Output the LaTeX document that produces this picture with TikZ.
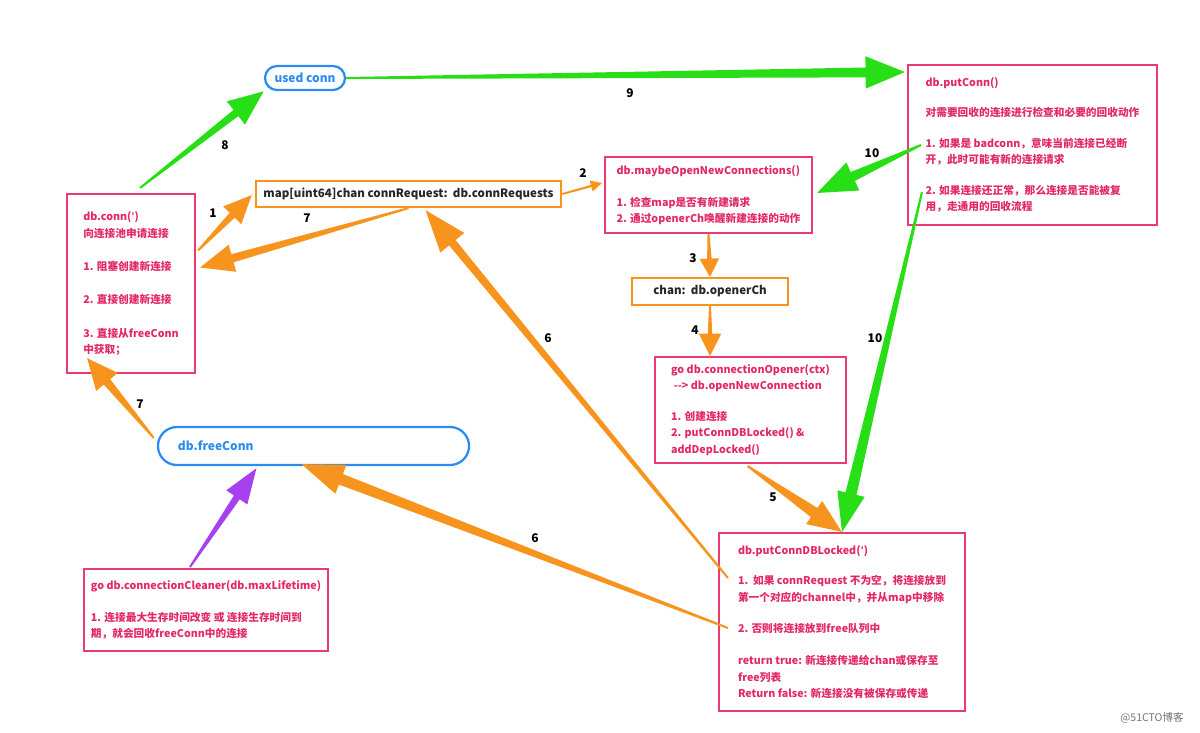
\documentclass[tikz,border=0pt]{standalone}
\usepackage{fontspec}
\setmainfont{Noto Sans CJK SC}
\newfontfamily\quotefont{DejaVu Sans}[Ligatures=ResetAll]
\usetikzlibrary{calc}
\definecolor{pinkline}{RGB}{236,58,114}
\definecolor{pinktext}{RGB}{226,40,104}
\definecolor{orangeline}{RGB}{247,148,30}
\definecolor{greenline}{RGB}{40,222,22}
\definecolor{blueline}{RGB}{40,140,240}
\definecolor{purpleline}{RGB}{165,65,240}
\newcommand{\qmark}{{\quotefont\symbol{39}}}
\tikzset{
  fnbox/.style={draw=pinkline, line width=1.4pt, text=pinktext, align=left, inner sep=0pt,
    font=\fontsize{7.6}{11.7}\selectfont\bfseries},
  chbox/.style={draw=orangeline, line width=1.6pt, text=black!85, inner sep=0pt,
    font=\fontsize{8.2}{10}\selectfont\bfseries},
  poolbox/.style={draw=blueline, line width=1.6pt, text=blueline, inner sep=0pt,
    font=\fontsize{8.5}{10}\selectfont\bfseries},
  steplbl/.style={font=\fontsize{8.5}{10}\selectfont\bfseries},
  at0/.style={shift={(\p1)}, rotate=\n1},
  wedge/.style n args={3}{to path={
    let \p1=(\tikztostart), \p2=(\tikztotarget),
        \n1={atan2(\y2-\y1,\x2-\x1)}, \n2={veclen(\x2-\x1,\y2-\y1)} in
    ([at0]0pt,0.7pt) -- ([at0]\n2-#2,#3) -- ([at0]\n2-#2,#1) -- ([at0]\n2,0pt)
    -- ([at0]\n2-#2,-#1) -- ([at0]\n2-#2,-#3) -- ([at0]0pt,-0.7pt) -- cycle}},
}
\begin{document}
\begin{tikzpicture}[x=0.025cm, y=-0.025cm]
\useasboundingbox (0,0) rectangle (1200,732);

% boxes
\node[poolbox, rounded corners=0.3cm, minimum width=2cm, minimum height=0.6cm] (usedconn) at (305,78) {used conn};
\node[fnbox, minimum width=3.2cm, minimum height=4.475cm] (conn) at (131,283.5)
  {db.conn(\qmark)\\向连接池申请连接\\[12pt]1. 阻塞创建新连接\\[12pt]2. 直接创建新连接\\[12pt]3. 直接从freeConn\\中获取；};
\node[chbox, minimum width=7.625cm, minimum height=0.65cm] (mapreq) at (408.5,194)
  {map[uint64]chan connRequest:\ \ db.connRequests};
\node[fnbox, minimum width=5.175cm, minimum height=1.9cm] (maybeopen) at (708.5,195)
  {db.maybeOpenNewConnections()\\[11pt]1. 检查map是否有新建请求\\2. 通过openerCh唤醒新建连接的动作};
\node[chbox, minimum width=3.9cm, minimum height=0.675cm] (openerch) at (710,291.5)
  {chan:\ \ db.openerCh};
\node[fnbox, minimum width=4.775cm, minimum height=2.65cm] (opener) at (750.5,410)
  {go db.connectionOpener(ctx)\\\hspace{0.25em}-{}-> db.openNewConnection\\[10pt]1. 创建连接\\2. putConnDBLocked() \&\\addDepLocked()};
\node[fnbox, minimum width=6.225cm, minimum height=4cm] (putconn) at (1032.5,145)
  {db.putConn()\\[10pt]对需要回收的连接进行检查和必要的回收动作\\[10pt]1. 如果是 badconn，意味当前连接已经断\\开，此时可能有新的连接请求\\[10pt]2. 如果连接还正常，那么连接是否能被复\\用，走通用的回收流程};
\node[poolbox, rounded corners=0.475cm, minimum width=7.775cm, minimum height=0.95cm,
  text width=6.775cm, align=left] (freeconn) at (313.5,446) {db.freeConn};
\node[fnbox, minimum width=6.1cm, minimum height=2.05cm] (cleaner) at (206,610)
  {go db.connectionCleaner(db.maxLifetime)\\[11pt]1. 连接最大生存时间改变 或 连接生存时间到\\期，就会回收freeConn中的连接};
\node[fnbox, minimum width=6.15cm, minimum height=4.45cm] (putlocked) at (842,622)
  {db.putConnDBLocked(\qmark)\\[10pt]1.\ \ 如果 connRequest 不为空，将连接放到\\第一个对应的channel中，并从map中移除\\[11pt]2. 否则将连接放到free队列中\\[11pt]return true: 新连接传递给chan或保存至\\free列表\\Return false: 新连接没有被保存或传递};

% green arrows
\fill[greenline, wedge={10.5pt}{25pt}{2.8pt}] ($(conn.north)+(9,-5)$) to (usedconn.south west);
\fill[greenline, wedge={11.5pt}{28pt}{3.5pt}] (usedconn.east) to ($(putconn.north west)+(-2,8)$);
\fill[greenline, wedge={11pt}{28pt}{3.5pt}] ($(putconn.west)+(14,0)$) to ($(maybeopen.east)+(4,-2)$);
\fill[greenline, wedge={10pt}{28pt}{4pt}] ($(putconn.west)+(15,47)$) to (putlocked.north);

% orange arrows
\fill[orangeline, wedge={9pt}{20pt}{2.5pt}] ($(conn.east)+(2,-33)$) to ($(mapreq.west)+(-3,1)$);
\fill[orangeline, wedge={10pt}{24pt}{3pt}] (mapreq.south) to ($(conn.east)+(4,-16)$);
\fill[orangeline, wedge={4pt}{8pt}{0.8pt}] (mapreq.east) to ($(maybeopen.west)+(-2,-12)$);
\fill[orangeline, wedge={7pt}{13pt}{1.6pt}] (maybeopen.south) to (openerch.north);
\fill[orangeline, wedge={8pt}{16pt}{1.6pt}] (openerch.south) to (openerch.south |- opener.north);
\fill[orangeline, wedge={10pt}{24pt}{4pt}] ($(opener.south)+(-3,2)$) to (putlocked.north);
\fill[orangeline, wedge={11pt}{30pt}{3pt}] ($(putlocked.west)+(10,-44)$) to ($(mapreq.south)+(17,2)$);
\fill[orangeline, wedge={11pt}{30pt}{4pt}] ($(putlocked.west)+(10,6)$) to ($(freeconn.south)+(-12,-2)$);
\fill[orangeline, wedge={10pt}{22pt}{3pt}] ($(freeconn.west)+(-3,-8)$) to ($(conn.south west)+(21,-16)$);

% purple arrow
\fill[purpleline, wedge={9pt}{25pt}{2.5pt}] ($(cleaner.north)+(-16,-1)$) to ($(freeconn.south)+(-57,2)$);

% step numbers
\node[steplbl] (s8) at (225,145) {8};
\node[steplbl] (s9) at (630,93) {9};
\node[steplbl] (s10a) at (872,153) {10};
\node[steplbl] (s10b) at (875,338) {10};
\node[steplbl] (s1) at (213,213) {1};
\node[steplbl] (s7a) at (307,218) {7};
\node[steplbl] (s2) at (583,173) {2};
\node[steplbl] (s3) at (693,258) {3};
\node[steplbl] (s4) at (695,330) {4};
\node[steplbl] (s5) at (773,497) {5};
\node[steplbl] (s6a) at (548,338) {6};
\node[steplbl] (s6b) at (535,538) {6};
\node[steplbl] (s7b) at (140,404) {7};

\node[text=black!55, font=\fontsize{7.5}{9}\selectfont] (mark) at (1152,718) {@51CTO博客};
\end{tikzpicture}
\end{document}
